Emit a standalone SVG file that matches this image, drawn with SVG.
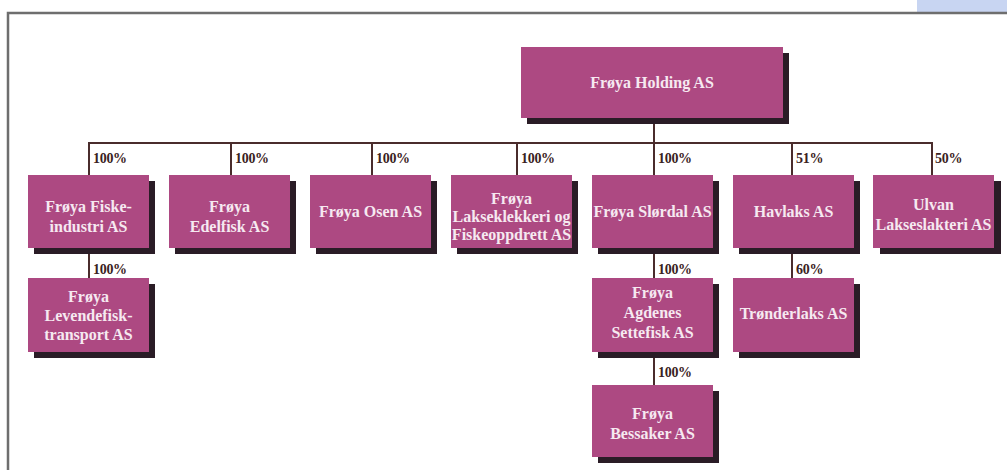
<svg xmlns="http://www.w3.org/2000/svg" width="1007" height="470" viewBox="0 0 1007 470">
<defs>
<style>
.box{fill:#ad4982}
.sh{fill:#2a1c26}
.t{font-family:"Liberation Serif",serif;font-weight:bold;font-size:16px;fill:#f6e9f1;text-anchor:middle}
.p{font-family:"Liberation Serif",serif;font-weight:bold;font-size:14px;fill:#3a2222;letter-spacing:-0.3px}
.ln{stroke:#4a2c2c;stroke-width:2;fill:none}
</style>
</defs>
<rect x="0" y="0" width="1007" height="470" fill="#ffffff"/>
<rect x="917" y="0" width="90" height="12" fill="#c8d5f2"/>
<path d="M8,470 V13 H1007" stroke="#6e6e6e" stroke-width="2.5" fill="none"/>
<g id="connectors">
<path class="ln" d="M654,119 V143 M89,175 V143 H932 V175 M231,143 V175 M372,143 V175 M517,143 V175 M654,143 V175 M792,143 V175"/>
<path class="ln" d="M89,248 V278 M654,248 V278 M792,248 V278 M654,352 V385"/>
<text class="p" x="93" y="163">100%</text>
<text class="p" x="235" y="163">100%</text>
<text class="p" x="376" y="163">100%</text>
<text class="p" x="521" y="163">100%</text>
<text class="p" x="658" y="163">100%</text>
<text class="p" x="796" y="163">51%</text>
<text class="p" x="935" y="163">50%</text>
<text class="p" x="93" y="274">100%</text>
<text class="p" x="658" y="274">100%</text>
<text class="p" x="796" y="274">60%</text>
<text class="p" x="658" y="377">100%</text>
</g>
<g id="holding">
<rect class="sh" x="527" y="53" width="262" height="71"/>
<rect class="box" x="521" y="47" width="262" height="71"/>
<text class="t" x="652" y="88">Frøya Holding AS</text>
</g>
<g id="fiskeindustri">
<rect class="sh" x="34" y="181" width="121" height="73"/>
<rect class="box" x="28" y="175" width="121" height="73"/>
<text class="t" x="88.5" y="212">Frøya Fiske-</text>
<text class="t" x="88.5" y="232">industri AS</text>
</g>
<g id="edelfisk">
<rect class="sh" x="175" y="181" width="121" height="73"/>
<rect class="box" x="169" y="175" width="121" height="73"/>
<text class="t" x="229.5" y="212">Frøya</text>
<text class="t" x="229.5" y="232">Edelfisk AS</text>
</g>
<g id="osen">
<rect class="sh" x="316" y="181" width="121" height="73"/>
<rect class="box" x="310" y="175" width="121" height="73"/>
<text class="t" x="370.5" y="217">Frøya Osen AS</text>
</g>
<g id="lakseklekkeri">
<rect class="sh" x="457" y="181" width="121" height="73"/>
<rect class="box" x="451" y="175" width="121" height="73"/>
<text class="t" x="511.5" y="204">Frøya</text>
<text class="t" x="511.5" y="222">Lakseklekkeri og</text>
<text class="t" x="511.5" y="240">Fiskeoppdrett AS</text>
</g>
<g id="slordal">
<rect class="sh" x="598" y="181" width="121" height="73"/>
<rect class="box" x="592" y="175" width="121" height="73"/>
<text class="t" x="652.5" y="217">Frøya Slørdal AS</text>
</g>
<g id="havlaks">
<rect class="sh" x="739" y="181" width="121" height="73"/>
<rect class="box" x="733" y="175" width="121" height="73"/>
<text class="t" x="793.5" y="217">Havlaks AS</text>
</g>
<g id="ulvan">
<rect class="sh" x="880" y="181" width="121" height="73"/>
<rect class="box" x="873" y="175" width="121" height="73"/>
<text class="t" x="933.5" y="210">Ulvan</text>
<text class="t" x="933.5" y="230">Lakseslakteri AS</text>
</g>
<g id="levendefisk">
<rect class="sh" x="34" y="284" width="121" height="74"/>
<rect class="box" x="28" y="278" width="121" height="74"/>
<text class="t" x="88.5" y="302">Frøya</text>
<text class="t" x="88.5" y="321">Levendefisk-</text>
<text class="t" x="88.5" y="340">transport AS</text>
</g>
<g id="agdenes">
<rect class="sh" x="598" y="284" width="121" height="74"/>
<rect class="box" x="592" y="278" width="121" height="74"/>
<text class="t" x="652.5" y="298">Frøya</text>
<text class="t" x="652.5" y="318">Agdenes</text>
<text class="t" x="652.5" y="338">Settefisk AS</text>
</g>
<g id="tronderlaks">
<rect class="sh" x="739" y="284" width="121" height="74"/>
<rect class="box" x="733" y="278" width="121" height="74"/>
<text class="t" x="793.5" y="319">Trønderlaks AS</text>
</g>
<g id="bessaker">
<rect class="sh" x="598" y="391" width="121" height="72"/>
<rect class="box" x="592" y="385" width="121" height="72"/>
<text class="t" x="652.5" y="419">Frøya</text>
<text class="t" x="652.5" y="439">Bessaker AS</text>
</g>
</svg>
